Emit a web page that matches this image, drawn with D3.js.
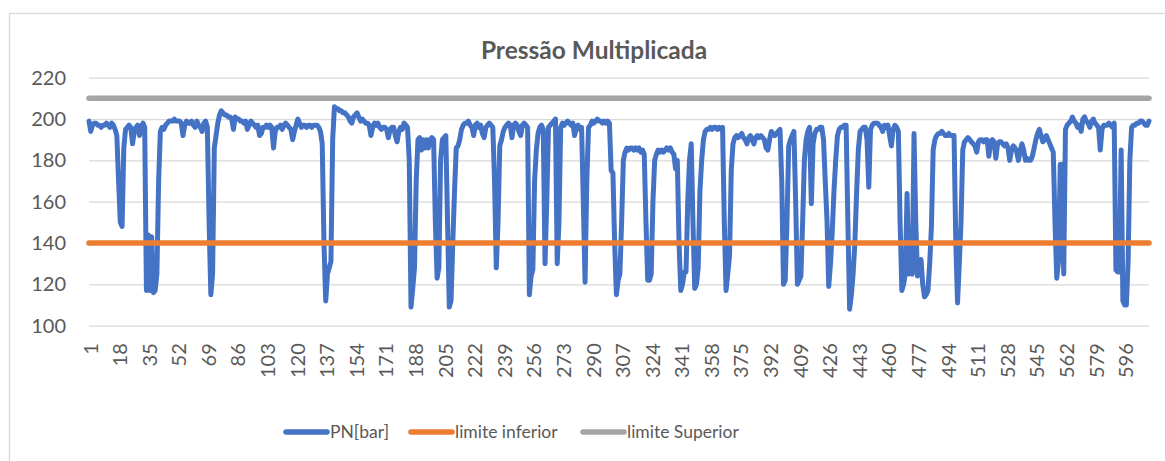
<!DOCTYPE html>
<html>
<head>
<meta charset="utf-8">
<script src="https://cdn.jsdelivr.net/npm/d3@7"></script>
<style>
  body { margin: 0; background: #fff; }
  text { font-family: Lato, "Liberation Sans", sans-serif; fill: #595959; }
</style>
</head>
<body>
<div id="chart"></div>
<script>
// PN[bar] readings, one per sample (1..610)
const pn = [
  199,194,197,198,198,197,197,196,197,197,
  198,197,196,198,197,195,192,170,150,148,
  186,195,196,197,196,188,194,196,197,192,
  196,198,196,117,144,117,143,116,117,125,
  170,194,196,195,197,198,199,199,199,200,
  199,199,199,198,192,197,199,198,198,199,
  197,196,199,197,196,194,198,199,196,150,
  115,125,186,192,198,202,204,203,202,202,
  201,201,200,195,201,200,200,199,199,198,
  199,195,197,199,198,197,196,197,192,193,
  196,196,197,196,197,196,186,194,196,196,
  197,195,197,198,197,196,195,190,194,197,
  200,198,196,197,197,196,197,197,196,197,
  197,197,196,194,188,140,112,125,128,131,
  190,206,205,205,204,204,203,203,202,201,
  199,198,201,202,203,201,199,200,199,198,
  198,197,192,196,198,197,198,196,195,196,
  196,195,191,195,196,196,192,189,194,196,
  195,198,197,196,180,109,118,128,170,190,
  191,185,190,186,190,186,190,191,190,150,
  123,128,180,190,191,192,150,109,112,140,
  165,186,187,190,195,197,198,198,199,197,
  196,192,197,198,196,197,193,191,196,197,
  198,197,196,170,128,150,187,190,194,196,
  197,198,197,191,197,198,197,194,192,197,
  198,197,196,115,124,127,170,185,193,196,
  197,195,130,160,196,197,198,199,200,130,
  150,196,198,197,198,199,198,197,198,192,
  196,197,195,196,160,121,170,196,197,199,
  198,199,200,199,199,198,199,198,199,198,
  175,174,140,115,122,125,150,180,184,186,
  185,186,186,185,186,185,186,184,185,183,
  150,122,122,125,160,180,183,185,184,185,
  184,185,186,185,186,184,183,176,180,140,
  117,120,126,126,160,180,188,150,118,120,
  128,165,180,190,194,195,195,196,195,196,
  196,195,196,195,196,150,117,125,134,175,
  188,191,192,191,192,193,191,190,188,191,
  192,190,188,191,192,191,192,191,190,186,
  185,190,194,193,192,193,194,195,170,120,
  122,150,187,190,192,194,160,120,122,124,
  150,180,190,194,196,159,188,193,195,195,
  196,196,190,170,151,119,130,145,165,180,
  192,195,196,196,197,197,150,108,115,125,
  140,164,185,194,195,196,196,190,167,195,
  197,198,198,198,197,196,194,197,196,197,
  192,187,195,197,196,194,150,117,120,125,
  164,125,126,125,193,150,124,128,132,120,
  114,115,117,130,148,185,190,192,193,193,
  194,193,192,192,193,192,192,192,140,111,
  130,150,185,189,190,191,190,189,188,187,
  184,189,190,190,189,190,190,182,189,190,
  189,181,188,189,189,188,187,188,186,180,
  185,187,186,184,180,185,188,185,180,181,
  180,180,182,186,190,193,195,192,189,190,
  192,190,188,186,184,150,123,131,178,178,
  125,195,197,198,199,201,199,198,196,197,
  194,200,201,199,198,196,199,200,198,197,
  196,185,195,197,197,197,198,197,196,198,
  127,126,126,185,112,110,110,131,180,196,
  197,197,198,198,199,199,198,197,197,199
];
const categories = pn.map((d, i) => i + 1);
const limiteInferior = 140;
const limiteSuperior = 210;
const yTicks = [100, 120, 140, 160, 180, 200, 220];
const xTickLabels = [1, 18, 35, 52, 69, 86, 103, 120, 137, 154, 171, 188, 205, 222,
  239, 256, 273, 290, 307, 324, 341, 358, 375, 392, 409, 426, 443, 460, 477, 494,
  511, 528, 545, 562, 579, 596];
const seriesNames = ["PN[bar]", "limite inferior", "limite Superior"];
const colors = ["#4472C4", "#ED7D31", "#A5A5A5"];

const W = 1165, H = 461;
const plot = { left: 89, right: 1149, top: 77.7, bottom: 325.7 };

const svg = d3
  .select("#chart")
  .append("svg")
  .attr("width", W)
  .attr("height", H);

// chart area border (bottom/right fall outside the window)
svg.append("rect")
  .attr("x", 9.5).attr("y", 13.5)
  .attr("width", 1200).attr("height", 500)
  .attr("fill", "#fff")
  .attr("stroke", "#d9d9d9")
  .attr("stroke-width", 1.3);

const x = d3.scalePoint().domain(categories).range([plot.left, plot.right]);
const y = d3.scaleLinear().domain([100, 220]).range([plot.bottom, plot.top]);

// y axis + gridlines
const yAxis = svg.append("g")
  .attr("transform", "translate(" + plot.left + ",0)")
  .call(d3.axisLeft(y).tickValues(yTicks)
    .tickSizeInner(-(plot.right - plot.left)).tickSizeOuter(0).tickPadding(23));
yAxis.select(".domain").remove();
yAxis.selectAll("line").attr("stroke", "#d9d9d9").attr("stroke-width", 1.3);
yAxis.selectAll("text")
  .style("font-size", "20px")
  .style("fill", "#595959")
  .attr("font-family", null);

// x axis labels (rotated)
const xAxis = svg.append("g")
  .attr("transform", "translate(0," + plot.bottom + ")")
  .call(d3.axisBottom(x).tickValues(xTickLabels).tickSize(0));
xAxis.select(".domain").remove();
xAxis.selectAll("text")
  .attr("transform", "rotate(-90)")
  .attr("x", -17.5)
  .attr("y", 1)
  .attr("dy", "0.35em")
  .style("text-anchor", "end")
  .style("font-size", "20px")
  .style("fill", "#595959");

// title
svg.append("text")
  .attr("x", 594).attr("y", 59)
  .attr("text-anchor", "middle")
  .style("font-size", "24.5px")
  .style("font-weight", "bold")
  .text("Pressão Multiplicada");

const line = d3.line()
  .x((d, i) => x(categories[i]))
  .y((d) => y(d));

svg.append("path")
  .datum(pn)
  .attr("d", line)
  .attr("fill", "none")
  .attr("stroke", colors[0])
  .attr("stroke-width", 5)
  .attr("stroke-linejoin", "round")
  .attr("stroke-linecap", "round");

[limiteInferior, limiteSuperior].forEach((v, k) => {
  svg.append("line")
    .attr("x1", x(categories[0]))
    .attr("x2", x(categories[categories.length - 1]))
    .attr("y1", y(v)).attr("y2", y(v))
    .attr("stroke", colors[k + 1])
    .attr("stroke-width", 5.5)
    .attr("stroke-linecap", "round");
});

// legend
const legendX = [286, 411, 583];
const legend = svg.append("g").attr("transform", "translate(0,432)");
seriesNames.forEach((name, i) => {
  legend.append("line")
    .attr("x1", legendX[i]).attr("x2", legendX[i] + 41)
    .attr("y1", 0).attr("y2", 0)
    .attr("stroke", colors[i])
    .attr("stroke-width", 5.5)
    .attr("stroke-linecap", "round");
  legend.append("text")
    .attr("x", legendX[i] + 44)
    .attr("y", 0)
    .attr("dy", "0.35em")
    .style("font-size", "17.5px")
    .text(name);
});
</script>
</body>
</html>
